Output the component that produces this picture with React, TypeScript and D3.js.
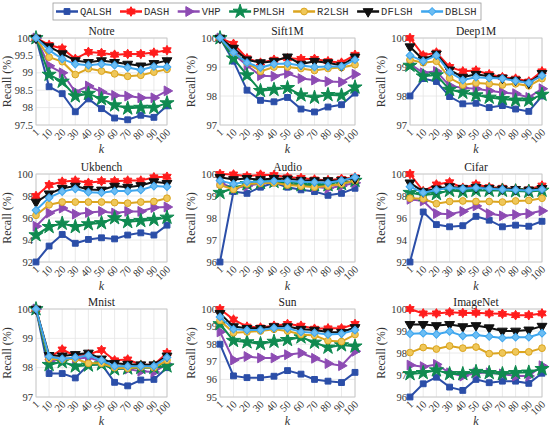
import React from 'react';
import * as d3 from 'd3';

// x categories (k) and series
const kLabels = ['1', '10', '20', '30', '40', '50', '60', '70', '80', '90', '100'];
const seriesNames = ['QALSH', 'DASH', 'VHP', 'PMLSH', 'R2LSH', 'DFLSH', 'DBLSH'];
const seriesColors = ['#2b4ea8', '#ff1c1c', '#8d4bb3', '#0f8a50', '#dba520', '#111111', '#3ea6ee'];
const seriesFills = ['#2b4ea8', '#ff1c1c', '#8d4bb3', '#0f8a50', '#efc75a', '#111111', '#6cbdf3'];

// recall (%) per dataset, rows in seriesNames order
const notre = [
  [100, 98.6, 98.4, 97.88, 98.25, 97.97, 97.7, 97.65, 97.78, 97.72, 98.05],
  [100, 99.8, 99.7, 99.4, 99.6, 99.57, 99.52, 99.54, 99.54, 99.58, 99.65],
  [100, 99.2, 99.0, 98.45, 98.62, 98.45, 98.35, 98.33, 98.28, 98.28, 98.48],
  [100, 98.95, 98.75, 98.33, 98.4, 98.25, 98.07, 97.98, 98.0, 98.0, 98.13],
  [100, 99.45, 99.32, 98.95, 99.12, 99.05, 98.97, 98.9, 98.93, 99.02, 99.1],
  [100, 99.75, 99.55, 99.35, 99.3, 99.35, 99.3, 99.25, 99.2, 99.27, 99.35],
  [100, 99.65, 99.4, 99.25, 99.22, 99.25, 99.22, 99.15, 99.08, 99.18, 99.17],
];
const sift1m = [
  [100, 99.2, 98.2, 97.85, 97.8, 97.95, 97.55, 97.45, 97.62, 97.7, 98.1],
  [100, 99.8, 99.3, 99.15, 99.25, 99.3, 99.28, 99.28, 99.2, 99.15, 99.42],
  [100, 99.45, 99.05, 98.7, 98.68, 98.78, 98.6, 98.55, 98.5, 98.48, 98.75],
  [100, 99.3, 98.72, 98.18, 98.22, 98.28, 98.03, 97.95, 98.04, 98.02, 98.3],
  [100, 99.5, 99.15, 98.85, 99.0, 99.0, 98.95, 98.88, 98.95, 98.98, 99.08],
  [100, 99.65, 99.25, 99.15, 99.2, 99.35, 99.1, 99.2, 99.15, 99.05, 99.35],
  [100, 99.5, 99.15, 98.98, 99.1, 99.12, 99.05, 99.0, 99.02, 99.02, 99.25],
];
const deep1m = [
  [98.0, 98.6, 98.5, 97.98, 97.73, 97.75, 97.6, 97.67, 97.55, 97.47, 98.0],
  [100, 99.4, 99.5, 99.0, 98.85, 98.88, 98.75, 98.65, 98.6, 98.5, 98.85],
  [99.1, 98.8, 98.85, 98.35, 98.28, 98.25, 98.18, 98.12, 98.08, 97.95, 98.25],
  [99.05, 98.68, 98.72, 98.22, 98.12, 98.03, 97.95, 97.9, 97.85, 97.85, 98.05],
  [99.25, 99.15, 99.2, 98.62, 98.38, 98.45, 98.42, 98.38, 98.42, 98.35, 98.6],
  [99.7, 99.25, 99.45, 98.9, 98.65, 98.75, 98.68, 98.62, 98.55, 98.45, 98.78],
  [99.4, 99.2, 99.4, 98.82, 98.55, 98.65, 98.62, 98.6, 98.52, 98.45, 98.7],
];
const ukbench = [
  [92.0, 93.45, 94.5, 93.7, 94.05, 94.2, 94.1, 94.45, 94.65, 94.45, 95.35],
  [98.0, 99.0, 99.3, 99.4, 99.2, 99.35, 99.35, 99.4, 99.4, 99.7, 99.75],
  [95.25, 96.45, 96.9, 96.35, 96.5, 96.6, 96.45, 96.6, 96.6, 96.95, 97.0],
  [94.45, 95.2, 95.5, 95.2, 95.45, 95.55, 96.0, 95.65, 95.75, 95.85, 96.05],
  [96.25, 97.2, 97.45, 97.45, 97.45, 97.45, 97.4, 97.35, 97.45, 97.5, 97.8],
  [97.45, 98.2, 98.7, 98.9, 98.6, 98.55, 98.9, 98.8, 98.95, 99.3, 99.15],
  [96.7, 97.85, 98.4, 98.65, 98.35, 98.3, 98.45, 98.45, 98.55, 98.9, 98.85],
];
const audio = [
  [96.0, 99.2, 99.12, 99.4, 99.6, 99.4, 99.28, 99.2, 99.03, 99.12, 99.35],
  [100, 99.98, 99.9, 99.97, 99.95, 99.85, 99.82, 99.75, 99.72, 99.78, 99.85],
  [99.6, 99.35, 99.45, 99.58, 99.65, 99.55, 99.5, 99.42, 99.35, 99.45, 99.6],
  [99.15, 99.35, 99.55, 99.6, 99.65, 99.55, 99.5, 99.5, 99.5, 99.55, 99.7],
  [99.5, 99.3, 99.55, 99.58, 99.6, 99.5, 99.45, 99.4, 99.45, 99.55, 99.7],
  [99.85, 99.75, 99.8, 99.75, 99.8, 99.78, 99.72, 99.7, 99.7, 99.72, 99.8],
  [99.7, 99.55, 99.65, 99.65, 99.68, 99.68, 99.65, 99.62, 99.6, 99.7, 99.85],
];
const cifar = [
  [92.0, 96.55, 95.4, 95.2, 95.3, 96.15, 95.8, 95.2, 95.35, 95.25, 95.7],
  [100, 98.45, 99.05, 99.25, 98.75, 99.05, 98.8, 98.75, 98.65, 98.6, 98.95],
  [97.7, 97.55, 96.4, 96.35, 96.6, 97.1, 96.4, 96.2, 96.3, 96.4, 96.65],
  [98.3, 98.1, 98.2, 98.5, 98.4, 98.5, 98.5, 98.5, 98.45, 98.4, 98.5],
  [97.8, 97.75, 97.3, 97.5, 97.55, 97.5, 97.5, 97.45, 97.55, 97.6, 97.8],
  [99.2, 98.4, 98.65, 98.85, 98.7, 98.8, 98.7, 98.65, 98.6, 98.55, 98.7],
  [98.85, 98.3, 98.55, 98.75, 98.65, 98.75, 98.65, 98.6, 98.55, 98.5, 98.6],
];
const mnist = [
  [100, 97.8, 97.8, 97.65, 98.1, 98.12, 97.5, 97.38, 97.58, 97.6, 98.0],
  [100, 98.35, 98.62, 98.4, 98.45, 98.6, 98.25, 98.28, 98.1, 98.1, 98.5],
  [100, 98.2, 98.3, 98.3, 98.35, 98.2, 98.0, 97.95, 97.88, 97.85, 98.12],
  [100, 98.1, 98.2, 98.05, 98.08, 98.12, 97.95, 97.98, 98.0, 98.0, 98.05],
  [100, 98.3, 98.28, 98.3, 98.15, 98.15, 98.0, 97.98, 98.02, 98.0, 98.25],
  [100, 98.42, 98.4, 98.45, 98.5, 98.3, 98.15, 98.12, 98.1, 98.1, 98.4],
  [100, 98.38, 98.3, 98.35, 98.42, 98.25, 98.05, 98.05, 98.05, 98.05, 98.35],
];
const sun = [
  [98.0, 96.2, 96.1, 96.1, 96.18, 96.5, 96.3, 96.0, 95.9, 95.82, 96.4],
  [100, 99.4, 99.0, 98.95, 99.05, 99.15, 99.05, 98.88, 98.9, 98.9, 99.15],
  [98.7, 97.1, 97.3, 97.22, 97.22, 97.4, 97.5, 97.2, 96.9, 96.78, 97.6],
  [99.15, 98.2, 98.12, 98.02, 98.15, 98.25, 98.4, 98.1, 97.82, 97.95, 97.88],
  [99.35, 98.65, 98.7, 98.75, 98.85, 98.75, 98.55, 98.5, 98.2, 98.15, 98.55],
  [99.75, 99.0, 98.9, 98.9, 99.0, 99.0, 98.85, 98.8, 98.7, 98.68, 98.95],
  [99.55, 98.85, 98.8, 98.8, 98.92, 98.9, 98.7, 98.65, 98.55, 98.6, 98.8],
];
const imagenet = [
  [96.0, 96.6, 96.9, 96.45, 96.3, 96.8, 96.65, 96.72, 96.72, 96.62, 97.08],
  [100, 99.8, 99.8, 99.85, 99.82, 99.83, 99.8, 99.78, 99.72, 99.72, 99.8],
  [97.45, 97.38, 97.48, 97.1, 96.95, 97.1, 97.1, 97.05, 96.95, 96.95, 97.42],
  [97.05, 97.1, 97.22, 97.05, 97.05, 97.15, 97.1, 97.05, 97.1, 97.12, 97.28],
  [98.02, 98.25, 98.18, 98.32, 98.22, 98.27, 97.97, 98.0, 98.05, 98.05, 98.22],
  [99.3, 99.3, 99.25, 99.3, 99.2, 99.25, 99.15, 99.0, 99.0, 99.05, 99.22],
  [98.88, 98.9, 98.85, 98.98, 98.78, 98.82, 98.75, 98.68, 98.72, 98.72, 98.9],
];

const panelTitles = ['Notre', 'Sift1M', 'Deep1M', 'Ukbench', 'Audio', 'Cifar', 'Mnist', 'Sun', 'ImageNet'];
const panelData = [notre, sift1m, deep1m, ukbench, audio, cifar, mnist, sun, imagenet];
const panelTicks = [
  [97.5, 98, 98.5, 99, 99.5, 100],
  [97, 98, 99, 100],
  [97, 98, 99, 100],
  [92, 94, 96, 98, 100],
  [96, 97, 98, 99, 100],
  [92, 94, 96, 98, 100],
  [97, 98, 99, 100],
  [95, 96, 97, 98, 99, 100],
  [96, 97, 98, 99, 100],
];

// layout
const colX = [[36, 167], [220, 355], [410, 542]];
const rowY = [[38, 125], [174, 262], [309, 397]];
const serif = 'Liberation Serif, Times New Roman, DejaVu Serif, serif';
const mono = 'Liberation Mono, Courier New, DejaVu Sans Mono, monospace';

// six pointed star (MATLAB hexagram)
const hexagram = {
  draw(ctx: any, size: number) {
    const R = Math.sqrt(size) * 0.62;
    const r = R * 0.58;
    for (let i = 0; i < 12; i++) {
      const a = (Math.PI / 6) * i - Math.PI / 2;
      const rad = i % 2 === 0 ? R : r;
      const px = Math.cos(a) * rad, py = Math.sin(a) * rad;
      if (i === 0) ctx.moveTo(px, py); else ctx.lineTo(px, py);
    }
    ctx.closePath();
  },
};

// marker per series: [symbol, size, rotation]
const markers: [any, number, number][] = [
  [d3.symbolSquare, 34, 0],
  [hexagram, 60, 0],
  [d3.symbolTriangle, 42, 90],
  [d3.symbolStar, 62, 0],
  [d3.symbolCircle, 36, 0],
  [d3.symbolTriangle, 42, 180],
  [d3.symbolSquare, 30, 45],
];

const Marker = ({ i, x, y }: { i: number; x: number; y: number }) => {
  const [type, size, rot] = markers[i];
  const d = d3.symbol().type(type).size(size)() || '';
  return (
    <path
      d={d}
      transform={`translate(${x},${y}) rotate(${rot})`}
      fill={seriesFills[i]}
      stroke={seriesColors[i]}
      strokeWidth={1}
    />
  );
};

const Panel = ({ idx }: { idx: number }) => {
  const [x0, x1] = colX[idx % 3];
  const [y0, y1] = rowY[Math.floor(idx / 3)];
  const ticks = panelTicks[idx];
  const data = panelData[idx];

  const xScale = d3.scalePoint<string>().domain(kLabels).range([x0, x1]);
  const yScale = d3.scaleLinear().domain([ticks[0], ticks[ticks.length - 1]]).range([y1, y0]);
  const line = d3
    .line<number>()
    .x((_, j) => xScale(kLabels[j]) as number)
    .y((v) => yScale(v));

  return (
    <g>
      {/* grid */}
      {kLabels.map((k) => (
        <line key={'gx' + k} x1={xScale(k)} x2={xScale(k)} y1={y0} y2={y1} stroke="#e4e4e4" strokeWidth={0.8} />
      ))}
      {ticks.map((t) => (
        <line key={'gy' + t} x1={x0} x2={x1} y1={yScale(t)} y2={yScale(t)} stroke="#e4e4e4" strokeWidth={0.8} />
      ))}
      <rect x={x0} y={y0} width={x1 - x0} height={y1 - y0} fill="none" stroke="#c4c4c4" strokeWidth={0.8} />

      {/* y tick labels */}
      {ticks.map((t) => (
        <text key={'ty' + t} x={x0 - 3} y={yScale(t)} dy="0.35em" textAnchor="end" style={{ fontFamily: serif, fontSize: 10.5 }} fill="#333">
          {String(t)}
        </text>
      ))}
      {/* x tick labels, rotated */}
      {kLabels.map((k) => (
        <text
          key={'tx' + k}
          transform={`translate(${(xScale(k) as number) + 1},${y1 + 5}) rotate(-45)`}
          textAnchor="end"
          dy="0.4em"
          style={{ fontFamily: serif, fontSize: 10.5 }}
          fill="#333"
        >
          {k}
        </text>
      ))}

      <text x={(x0 + x1) / 2} y={y0 - 3} textAnchor="middle" style={{ fontFamily: serif, fontSize: 11.5 }} fill="#222">
        {panelTitles[idx]}
      </text>
      <text x={(x0 + x1) / 2} y={y1 + 28} textAnchor="middle" style={{ fontFamily: serif, fontSize: 12, fontStyle: 'italic' }} fill="#333">
        k
      </text>
      <text
        transform={`translate(${x0 - 25},${(y0 + y1) / 2}) rotate(-90)`}
        textAnchor="middle"
        style={{ fontFamily: serif, fontSize: 12 }}
        fill="#333"
      >
        Recall (%)
      </text>

      {/* series */}
      {data.map((vals, i) => (
        <g key={seriesNames[i]}>
          <path d={line(vals) || ''} fill="none" stroke={seriesColors[i]} strokeWidth={2} />
          {vals.map((v, j) => (
            <Marker key={j} i={i} x={xScale(kLabels[j]) as number} y={yScale(v)} />
          ))}
        </g>
      ))}
    </g>
  );
};

const Legend = () => {
  const charW = 6.3;
  const starts: number[] = [];
  let cur = 56;
  seriesNames.forEach((name) => {
    starts.push(cur);
    cur += 24 + name.length * charW + 8.5;
  });
  return (
    <g>
      <rect x={53} y={3} width={428} height={17} fill="#fff" stroke="#9a9a9a" strokeWidth={0.8} />
      {seriesNames.map((name, i) => (
        <g key={name}>
          <line x1={starts[i]} x2={starts[i] + 22} y1={11.5} y2={11.5} stroke={seriesColors[i]} strokeWidth={2.5} />
          <Marker i={i} x={starts[i] + 11} y={11.5} />
          <text x={starts[i] + 24} y={11.5} dy="0.35em" style={{ fontFamily: mono, fontSize: 10.5 }} fill="#333">
            {name}
          </text>
        </g>
      ))}
    </g>
  );
};

const App = () => (
  <svg width={550} height={435} style={{ position: 'absolute', left: 0, top: 0, background: '#fff' }}>
    {panelTitles.map((_, idx) => (
      <Panel key={idx} idx={idx} />
    ))}
    <Legend />
  </svg>
);

export default App;
